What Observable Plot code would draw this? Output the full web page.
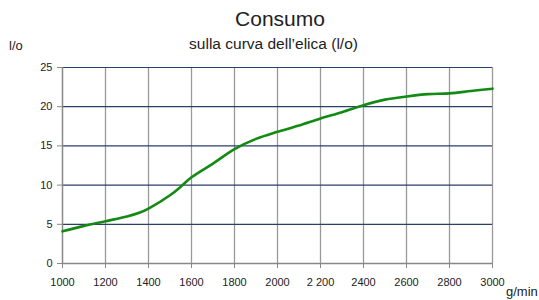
<!DOCTYPE html>
<html><head><meta charset="utf-8">
<script src="https://cdn.jsdelivr.net/npm/d3@7"></script>
<script src="https://cdn.jsdelivr.net/npm/@observablehq/plot@0.6"></script>
<style>
body{margin:0;background:#fff;font-family:"Liberation Sans",Arial,sans-serif;}
#wrap{position:relative;width:539px;height:300px;}
.t{position:absolute;color:#222;white-space:nowrap;}
#chart{position:absolute;left:0;top:0;}
</style></head><body>
<div id="wrap">
<div id="chart"></div>
<div class="t" id="title" style="left:0;width:560px;text-align:center;top:7px;font-size:21px;">Consumo</div>
<div class="t" style="left:0;width:547px;text-align:center;top:35px;font-size:15.5px;">sulla curva dell’elica (l/o)</div>
<div class="t" style="left:9px;top:38px;font-size:13px;">l/o</div>
<div class="t" style="left:506px;top:284px;font-size:13px;">g/min</div>
</div>
<script>
const rpm = [1000,1100,1200,1300,1360,1400,1500,1550,1600,1700,1800,1900,2000,2100,2200,2300,2400,2500,2600,2700,2800,2900,3000];
const consumo = [4.1,4.8,5.4,6.0,6.5,7.0,8.7,9.8,11.0,12.75,14.6,15.9,16.8,17.6,18.5,19.3,20.2,20.9,21.3,21.6,21.7,22.0,22.3];
const xTicks = [1000,1200,1400,1600,1800,2000,2200,2400,2600,2800,3000];
const yTicks = [0,5,10,15,20,25];
const data = rpm.map((r,i)=>({r, c: consumo[i]}));
const fmt = d => d === 2200 ? "2 200" : String(d);
const chart = Plot.plot({
  width: 539, height: 300,
  marginTop: 67, marginBottom: 37, marginLeft: 62, marginRight: 47,
  style: {fontFamily: "'Liberation Sans', Arial, sans-serif", fontSize: "11px", color: "#222", background: "transparent"},
  x: {domain: [1000, 3000], label: null},
  y: {domain: [0, 25], label: null},
  marks: [
    Plot.ruleX(xTicks.filter(d => d > 1000), {stroke: "#999", strokeWidth: 1.3}),
    Plot.ruleY(yTicks.filter(d => d > 0), {stroke: "#2b3f6b", strokeWidth: 1.2}),
    Plot.ruleX([1000], {stroke: "#888", strokeWidth: 1.5}),
    Plot.ruleY([0], {stroke: "#888", strokeWidth: 1.5}),
    Plot.axisX({ticks: xTicks, tickSize: 5, tickPadding: 10, stroke: "#888", tickFormat: fmt, fill: "#222", label: null}),
    Plot.axisY({ticks: yTicks, tickSize: 5, tickPadding: 5, stroke: "#888", fill: "#222", label: null}),
    Plot.line(data, {x: "r", y: "c", stroke: "#138a13", strokeWidth: 2.6, curve: "catmull-rom"})
  ]
});
document.getElementById("chart").appendChild(chart);
</script>
</body></html>
